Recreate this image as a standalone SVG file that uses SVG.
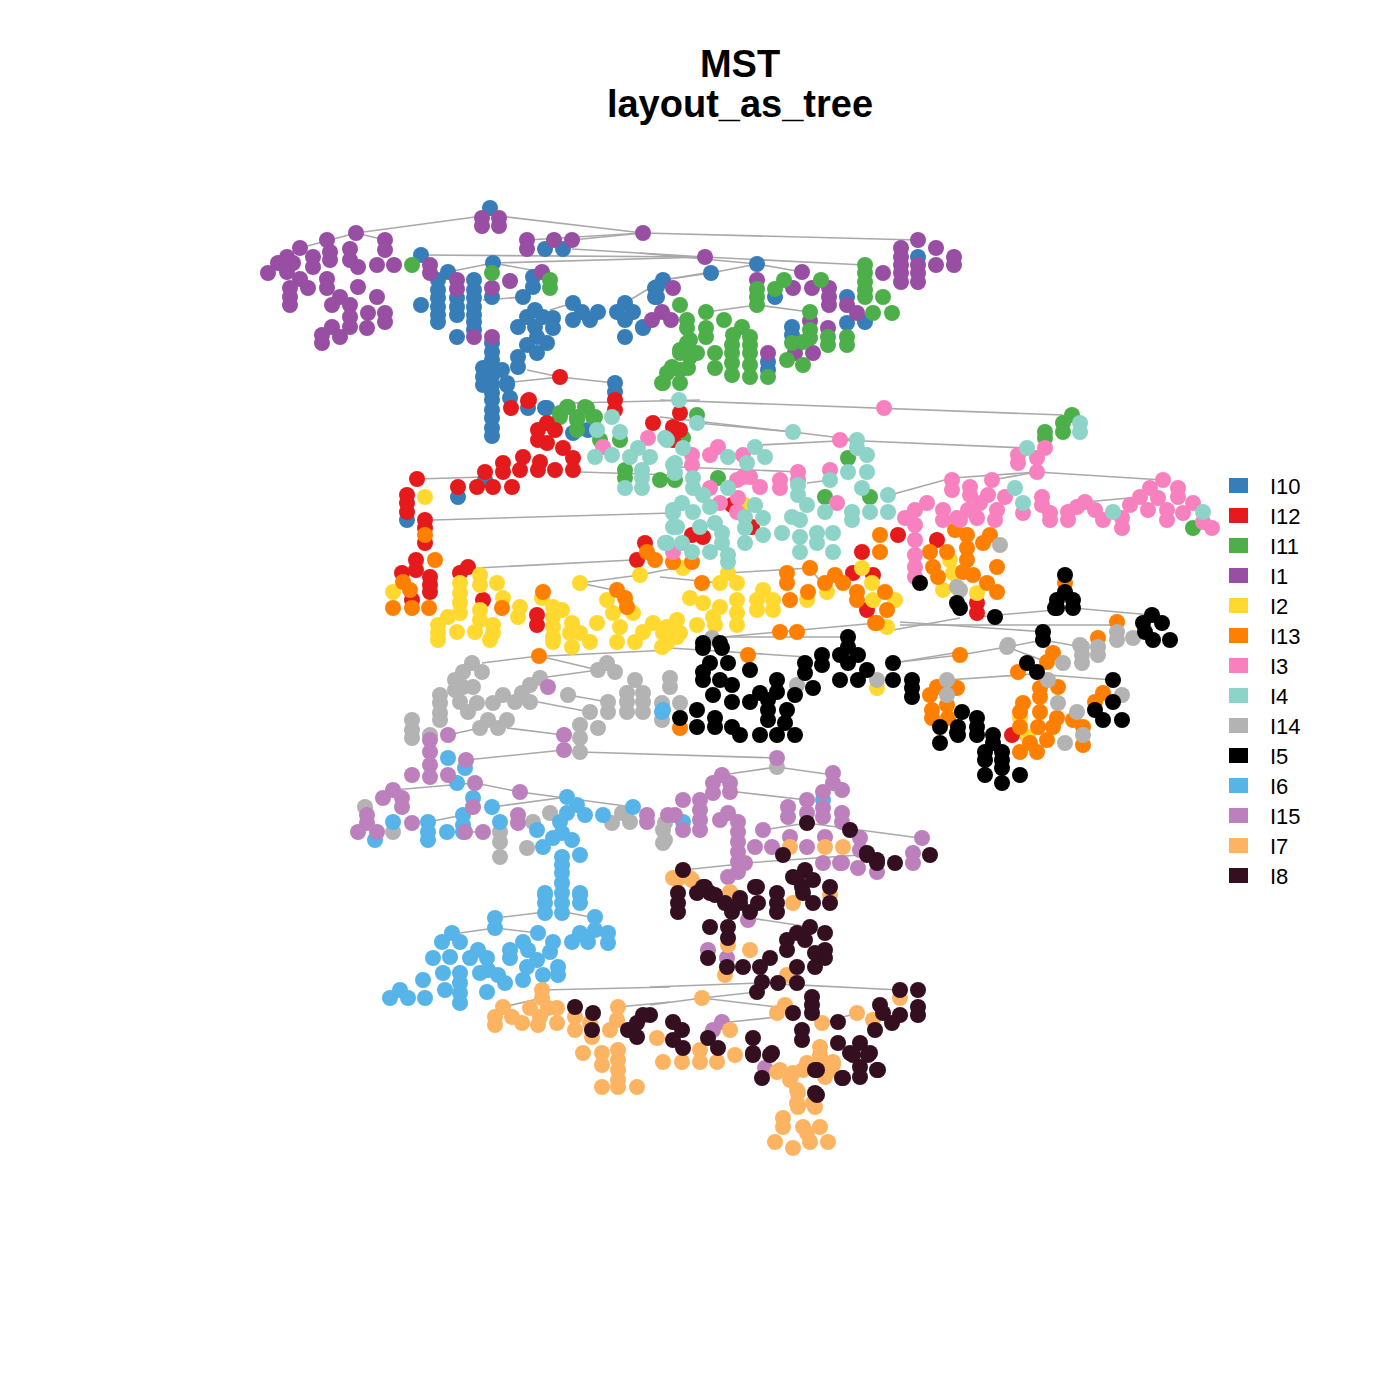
<svg xmlns="http://www.w3.org/2000/svg" width="1400" height="1400" viewBox="0 0 1400 1400">
<style>
.t{font-family:"Liberation Sans",Arial,sans-serif;font-weight:bold;font-size:38px;text-anchor:middle;fill:#000}
.lg{font-family:"Liberation Sans",Arial,sans-serif;font-size:22px;fill:#000}
#edges line{stroke:#A9A9A9;stroke-width:1.6}
circle{r:8}
.c10{fill:#377EB8}.c12{fill:#E41A1C}.c11{fill:#4DAF4A}.c1{fill:#984EA3}.c2{fill:#FFD92F}.c13{fill:#FF7F00}.c3{fill:#F781BF}.c4{fill:#8DD3C7}.c14{fill:#B3B3B3}.c5{fill:#000000}.c6{fill:#56B4E9}.c15{fill:#BC80BD}.c7{fill:#FDB462}.c8{fill:#340F20}
</style>
<rect width="1400" height="1400" fill="#fff"/>
<text class="t" x="740" y="77">MST</text>
<text class="t" x="740" y="117">layout_as_tree</text>
<g id="edges">
<line x1="356" y1="233" x2="490" y2="215"/><line x1="490" y1="215" x2="643" y2="233"/><line x1="643" y1="233" x2="918" y2="240"/>
<line x1="300" y1="248" x2="356" y2="233"/><line x1="356" y1="233" x2="385" y2="240"/><line x1="527" y1="240" x2="643" y2="233"/><line x1="572" y1="240" x2="643" y2="233"/>
<line x1="421" y1="255" x2="705" y2="257"/><line x1="572" y1="249" x2="705" y2="257"/><line x1="493" y1="263" x2="705" y2="257"/><line x1="705" y1="257" x2="865" y2="265"/>
<line x1="640" y1="253" x2="757" y2="264"/><line x1="711" y1="273" x2="757" y2="264"/><line x1="663" y1="280" x2="711" y2="273"/><line x1="757" y1="264" x2="802" y2="272"/>
<line x1="757" y1="305" x2="706" y2="312"/><line x1="757" y1="305" x2="810" y2="312"/><line x1="448" y1="272" x2="493" y2="263"/><line x1="493" y1="263" x2="542" y2="272"/>
<line x1="483" y1="300" x2="523" y2="297"/><line x1="550" y1="310" x2="573" y2="303"/><line x1="625" y1="303" x2="663" y2="280"/><line x1="663" y1="280" x2="705" y2="273"/>
<line x1="513" y1="382" x2="560" y2="377"/><line x1="527" y1="370" x2="560" y2="377"/><line x1="560" y1="377" x2="615" y2="383"/>
<line x1="660" y1="400" x2="1063" y2="415"/><line x1="570" y1="403" x2="700" y2="400"/><line x1="660" y1="417" x2="793" y2="432"/><line x1="697" y1="423" x2="793" y2="432"/>
<line x1="793" y1="432" x2="857" y2="440"/><line x1="840" y1="440" x2="1027" y2="448"/><line x1="760" y1="445" x2="857" y2="440"/><line x1="680" y1="467" x2="800" y2="472"/>
<line x1="807" y1="483" x2="830" y2="480"/><line x1="890" y1="495" x2="952" y2="478"/><line x1="952" y1="478" x2="1037" y2="472"/><line x1="992" y1="480" x2="1037" y2="472"/>
<line x1="1037" y1="472" x2="1163" y2="480"/><line x1="1085" y1="502" x2="1140" y2="497"/><line x1="417" y1="479" x2="485" y2="477"/><line x1="580" y1="472" x2="673" y2="475"/>
<line x1="433" y1="520" x2="673" y2="513"/><line x1="477" y1="568" x2="633" y2="560"/><line x1="580" y1="583" x2="640" y2="575"/><line x1="640" y1="575" x2="680" y2="567"/>
<line x1="580" y1="583" x2="613" y2="590"/><line x1="660" y1="577" x2="720" y2="583"/><line x1="728" y1="573" x2="810" y2="568"/><line x1="810" y1="568" x2="827" y2="590"/>
<line x1="893" y1="630" x2="960" y2="618"/><line x1="710" y1="637" x2="848" y2="637"/><line x1="712" y1="638" x2="877" y2="623"/><line x1="670" y1="648" x2="807" y2="657"/>
<line x1="893" y1="663" x2="960" y2="652"/><line x1="900" y1="622" x2="1047" y2="632"/><line x1="977" y1="617" x2="1055" y2="610"/><line x1="1073" y1="608" x2="1152" y2="615"/>
<line x1="900" y1="625" x2="1117" y2="625"/><line x1="900" y1="662" x2="960" y2="655"/><line x1="960" y1="655" x2="1007" y2="647"/><line x1="1007" y1="647" x2="1043" y2="640"/>
<line x1="1043" y1="640" x2="1082" y2="647"/><line x1="1007" y1="647" x2="1047" y2="662"/><line x1="947" y1="680" x2="1048" y2="673"/><line x1="1048" y1="675" x2="1113" y2="680"/>
<line x1="482" y1="663" x2="539" y2="656"/><line x1="539" y1="656" x2="598" y2="670"/><line x1="547" y1="656" x2="670" y2="650"/><line x1="540" y1="678" x2="598" y2="670"/>
<line x1="538" y1="702" x2="590" y2="712"/><line x1="568" y1="695" x2="608" y2="702"/><line x1="507" y1="728" x2="564" y2="735"/><line x1="448" y1="735" x2="480" y2="728"/>
<line x1="466" y1="760" x2="564" y2="750"/><line x1="580" y1="752" x2="777" y2="758"/><line x1="393" y1="790" x2="475" y2="783"/><line x1="475" y1="783" x2="520" y2="792"/>
<line x1="520" y1="792" x2="633" y2="807"/><line x1="492" y1="807" x2="567" y2="797"/><line x1="447" y1="832" x2="483" y2="832"/><line x1="428" y1="822" x2="463" y2="815"/>
<line x1="777" y1="767" x2="833" y2="775"/><line x1="722" y1="775" x2="777" y2="767"/><line x1="737" y1="792" x2="807" y2="800"/><line x1="807" y1="823" x2="920" y2="838"/>
<line x1="763" y1="830" x2="807" y2="823"/><line x1="745" y1="863" x2="860" y2="855"/><line x1="683" y1="870" x2="740" y2="864"/><line x1="750" y1="918" x2="810" y2="927"/>
<line x1="495" y1="918" x2="545" y2="912"/><line x1="495" y1="928" x2="538" y2="933"/><line x1="460" y1="933" x2="495" y2="928"/><line x1="570" y1="913" x2="595" y2="918"/>
<line x1="542" y1="990" x2="670" y2="987"/><line x1="618" y1="1007" x2="670" y2="1002"/><line x1="650" y1="987" x2="760" y2="983"/><line x1="760" y1="983" x2="900" y2="990"/>
<line x1="702" y1="998" x2="757" y2="992"/><line x1="650" y1="1005" x2="702" y2="998"/><line x1="702" y1="998" x2="777" y2="1007"/><line x1="730" y1="1022" x2="777" y2="1017"/>
<line x1="503" y1="1007" x2="542" y2="998"/><line x1="823" y1="1023" x2="857" y2="1013"/><line x1="787" y1="940" x2="810" y2="927"/>
</g>
<g id="n-I10" class="c10"><circle cx="490" cy="208" r="8"/><circle cx="545" cy="249" r="8"/><circle cx="563" cy="249" r="8"/><circle cx="421" cy="255" r="8"/><circle cx="438" cy="280" r="8"/><circle cx="438" cy="290" r="8"/><circle cx="438" cy="298" r="8"/><circle cx="438" cy="307" r="8"/><circle cx="438" cy="315" r="8"/><circle cx="438" cy="322" r="8"/><circle cx="448" cy="272" r="8"/><circle cx="421" cy="305" r="8"/><circle cx="457" cy="298" r="8"/><circle cx="457" cy="307" r="8"/><circle cx="457" cy="315" r="8"/><circle cx="457" cy="337" r="8"/><circle cx="474" cy="280" r="8"/><circle cx="474" cy="290" r="8"/><circle cx="474" cy="298" r="8"/><circle cx="474" cy="307" r="8"/><circle cx="474" cy="315" r="8"/><circle cx="474" cy="322" r="8"/><circle cx="474" cy="330" r="8"/><circle cx="493" cy="263" r="8"/><circle cx="492" cy="297" r="8"/><circle cx="492" cy="343" r="8"/><circle cx="492" cy="352" r="8"/><circle cx="492" cy="360" r="8"/><circle cx="492" cy="368" r="8"/><circle cx="492" cy="376" r="8"/><circle cx="492" cy="385" r="8"/><circle cx="492" cy="393" r="8"/><circle cx="492" cy="400" r="8"/><circle cx="492" cy="410" r="8"/><circle cx="492" cy="418" r="8"/><circle cx="492" cy="428" r="8"/><circle cx="492" cy="436" r="8"/><circle cx="483" cy="368" r="8"/><circle cx="483" cy="377" r="8"/><circle cx="502" cy="370" r="8"/><circle cx="507" cy="383" r="8"/><circle cx="518" cy="357" r="8"/><circle cx="518" cy="367" r="8"/><circle cx="527" cy="345" r="8"/><circle cx="518" cy="327" r="8"/><circle cx="527" cy="317" r="8"/><circle cx="535" cy="310" r="8"/><circle cx="535" cy="327" r="8"/><circle cx="543" cy="317" r="8"/><circle cx="553" cy="318" r="8"/><circle cx="553" cy="328" r="8"/><circle cx="537" cy="337" r="8"/><circle cx="547" cy="343" r="8"/><circle cx="537" cy="353" r="8"/><circle cx="523" cy="297" r="8"/><circle cx="533" cy="287" r="8"/><circle cx="533" cy="277" r="8"/><circle cx="573" cy="303" r="8"/><circle cx="573" cy="320" r="8"/><circle cx="582" cy="312" r="8"/><circle cx="590" cy="320" r="8"/><circle cx="598" cy="312" r="8"/><circle cx="617" cy="312" r="8"/><circle cx="625" cy="303" r="8"/><circle cx="625" cy="320" r="8"/><circle cx="625" cy="337" r="8"/><circle cx="633" cy="312" r="8"/><circle cx="643" cy="328" r="8"/><circle cx="655" cy="288" r="8"/><circle cx="663" cy="280" r="8"/><circle cx="655" cy="297" r="8"/><circle cx="615" cy="383" r="8"/><circle cx="615" cy="392" r="8"/><circle cx="510" cy="398" r="8"/><circle cx="528" cy="408" r="8"/><circle cx="545" cy="408" r="8"/><circle cx="711" cy="273" r="8"/><circle cx="757" cy="264" r="8"/><circle cx="775" cy="297" r="8"/><circle cx="847" cy="297" r="8"/><circle cx="847" cy="323" r="8"/><circle cx="865" cy="322" r="8"/><circle cx="918" cy="257" r="8"/><circle cx="657" cy="287" r="8"/><circle cx="657" cy="297" r="8"/><circle cx="643" cy="327" r="8"/><circle cx="768" cy="362" r="8"/><circle cx="768" cy="370" r="8"/><circle cx="792" cy="327" r="8"/><circle cx="792" cy="335" r="8"/><circle cx="483" cy="385" r="8"/><circle cx="507" cy="385" r="8"/><circle cx="547" cy="408" r="8"/><circle cx="573" cy="433" r="8"/><circle cx="588" cy="430" r="8"/><circle cx="458" cy="497" r="8"/><circle cx="407" cy="520" r="8"/><circle cx="485" cy="480" r="8"/></g>
<g id="n-I1" class="c1"><circle cx="482" cy="218" r="8"/><circle cx="499" cy="218" r="8"/><circle cx="482" cy="226" r="8"/><circle cx="499" cy="226" r="8"/><circle cx="356" cy="233" r="8"/><circle cx="643" cy="233" r="8"/><circle cx="327" cy="240" r="8"/><circle cx="300" cy="248" r="8"/><circle cx="385" cy="240" r="8"/><circle cx="385" cy="250" r="8"/><circle cx="527" cy="240" r="8"/><circle cx="527" cy="249" r="8"/><circle cx="554" cy="240" r="8"/><circle cx="572" cy="240" r="8"/><circle cx="287" cy="257" r="8"/><circle cx="278" cy="263" r="8"/><circle cx="268" cy="273" r="8"/><circle cx="287" cy="272" r="8"/><circle cx="293" cy="263" r="8"/><circle cx="313" cy="257" r="8"/><circle cx="313" cy="267" r="8"/><circle cx="330" cy="252" r="8"/><circle cx="330" cy="260" r="8"/><circle cx="350" cy="249" r="8"/><circle cx="350" cy="260" r="8"/><circle cx="358" cy="267" r="8"/><circle cx="358" cy="287" r="8"/><circle cx="377" cy="265" r="8"/><circle cx="394" cy="265" r="8"/><circle cx="300" cy="279" r="8"/><circle cx="290" cy="288" r="8"/><circle cx="290" cy="297" r="8"/><circle cx="290" cy="305" r="8"/><circle cx="308" cy="288" r="8"/><circle cx="327" cy="279" r="8"/><circle cx="327" cy="288" r="8"/><circle cx="340" cy="297" r="8"/><circle cx="332" cy="305" r="8"/><circle cx="350" cy="305" r="8"/><circle cx="377" cy="297" r="8"/><circle cx="385" cy="313" r="8"/><circle cx="385" cy="322" r="8"/><circle cx="368" cy="313" r="8"/><circle cx="350" cy="317" r="8"/><circle cx="367" cy="328" r="8"/><circle cx="350" cy="327" r="8"/><circle cx="332" cy="327" r="8"/><circle cx="322" cy="335" r="8"/><circle cx="322" cy="343" r="8"/><circle cx="340" cy="337" r="8"/><circle cx="430" cy="265" r="8"/><circle cx="430" cy="273" r="8"/><circle cx="457" cy="280" r="8"/><circle cx="457" cy="289" r="8"/><circle cx="474" cy="337" r="8"/><circle cx="492" cy="337" r="8"/><circle cx="492" cy="288" r="8"/><circle cx="510" cy="281" r="8"/><circle cx="542" cy="272" r="8"/><circle cx="673" cy="288" r="8"/><circle cx="652" cy="320" r="8"/><circle cx="662" cy="312" r="8"/><circle cx="671" cy="320" r="8"/><circle cx="705" cy="257" r="8"/><circle cx="757" cy="280" r="8"/><circle cx="802" cy="272" r="8"/><circle cx="793" cy="288" r="8"/><circle cx="812" cy="288" r="8"/><circle cx="829" cy="288" r="8"/><circle cx="829" cy="297" r="8"/><circle cx="829" cy="305" r="8"/><circle cx="847" cy="305" r="8"/><circle cx="857" cy="313" r="8"/><circle cx="883" cy="273" r="8"/><circle cx="901" cy="248" r="8"/><circle cx="901" cy="257" r="8"/><circle cx="901" cy="265" r="8"/><circle cx="901" cy="273" r="8"/><circle cx="901" cy="282" r="8"/><circle cx="918" cy="240" r="8"/><circle cx="936" cy="248" r="8"/><circle cx="936" cy="265" r="8"/><circle cx="954" cy="257" r="8"/><circle cx="954" cy="265" r="8"/><circle cx="918" cy="265" r="8"/><circle cx="918" cy="273" r="8"/><circle cx="918" cy="282" r="8"/><circle cx="768" cy="353" r="8"/><circle cx="795" cy="353" r="8"/><circle cx="813" cy="353" r="8"/><circle cx="810" cy="321" r="8"/><circle cx="828" cy="328" r="8"/></g>
<g id="n-I11" class="c11"><circle cx="412" cy="265" r="8"/><circle cx="492" cy="273" r="8"/><circle cx="550" cy="280" r="8"/><circle cx="550" cy="288" r="8"/><circle cx="680" cy="305" r="8"/><circle cx="687" cy="320" r="8"/><circle cx="687" cy="328" r="8"/><circle cx="567" cy="407" r="8"/><circle cx="585" cy="407" r="8"/><circle cx="560" cy="417" r="8"/><circle cx="577" cy="420" r="8"/><circle cx="593" cy="417" r="8"/><circle cx="663" cy="383" r="8"/><circle cx="672" cy="367" r="8"/><circle cx="680" cy="350" r="8"/><circle cx="690" cy="340" r="8"/><circle cx="690" cy="357" r="8"/><circle cx="667" cy="373" r="8"/><circle cx="757" cy="289" r="8"/><circle cx="757" cy="297" r="8"/><circle cx="757" cy="305" r="8"/><circle cx="775" cy="289" r="8"/><circle cx="784" cy="280" r="8"/><circle cx="821" cy="280" r="8"/><circle cx="847" cy="337" r="8"/><circle cx="847" cy="345" r="8"/><circle cx="865" cy="265" r="8"/><circle cx="865" cy="273" r="8"/><circle cx="865" cy="282" r="8"/><circle cx="865" cy="290" r="8"/><circle cx="865" cy="297" r="8"/><circle cx="873" cy="313" r="8"/><circle cx="883" cy="297" r="8"/><circle cx="892" cy="313" r="8"/><circle cx="706" cy="312" r="8"/><circle cx="706" cy="328" r="8"/><circle cx="706" cy="337" r="8"/><circle cx="724" cy="320" r="8"/><circle cx="742" cy="327" r="8"/><circle cx="733" cy="335" r="8"/><circle cx="750" cy="337" r="8"/><circle cx="750" cy="345" r="8"/><circle cx="750" cy="353" r="8"/><circle cx="732" cy="345" r="8"/><circle cx="732" cy="353" r="8"/><circle cx="732" cy="363" r="8"/><circle cx="732" cy="375" r="8"/><circle cx="750" cy="365" r="8"/><circle cx="750" cy="377" r="8"/><circle cx="715" cy="353" r="8"/><circle cx="715" cy="368" r="8"/><circle cx="697" cy="353" r="8"/><circle cx="687" cy="343" r="8"/><circle cx="680" cy="353" r="8"/><circle cx="680" cy="370" r="8"/><circle cx="688" cy="368" r="8"/><circle cx="662" cy="383" r="8"/><circle cx="680" cy="383" r="8"/><circle cx="768" cy="377" r="8"/><circle cx="787" cy="360" r="8"/><circle cx="803" cy="365" r="8"/><circle cx="803" cy="342" r="8"/><circle cx="810" cy="312" r="8"/><circle cx="810" cy="330" r="8"/><circle cx="810" cy="338" r="8"/><circle cx="828" cy="337" r="8"/><circle cx="828" cy="345" r="8"/><circle cx="792" cy="343" r="8"/><circle cx="560" cy="413" r="8"/><circle cx="568" cy="407" r="8"/><circle cx="577" cy="417" r="8"/><circle cx="577" cy="430" r="8"/><circle cx="587" cy="408" r="8"/><circle cx="595" cy="417" r="8"/><circle cx="600" cy="440" r="8"/><circle cx="620" cy="440" r="8"/><circle cx="625" cy="470" r="8"/><circle cx="625" cy="478" r="8"/><circle cx="660" cy="480" r="8"/><circle cx="697" cy="415" r="8"/><circle cx="683" cy="438" r="8"/><circle cx="848" cy="458" r="8"/><circle cx="870" cy="497" r="8"/><circle cx="825" cy="497" r="8"/><circle cx="718" cy="478" r="8"/><circle cx="675" cy="480" r="8"/><circle cx="1072" cy="415" r="8"/><circle cx="1063" cy="423" r="8"/><circle cx="1063" cy="432" r="8"/><circle cx="1045" cy="432" r="8"/><circle cx="1045" cy="438" r="8"/><circle cx="1193" cy="528" r="8"/></g>
<g id="n-I12" class="c12"><circle cx="560" cy="377" r="8"/><circle cx="615" cy="400" r="8"/><circle cx="615" cy="410" r="8"/><circle cx="528" cy="401" r="8"/><circle cx="511" cy="408" r="8"/><circle cx="529" cy="400" r="8"/><circle cx="653" cy="423" r="8"/><circle cx="680" cy="413" r="8"/><circle cx="680" cy="430" r="8"/><circle cx="673" cy="427" r="8"/><circle cx="673" cy="440" r="8"/><circle cx="547" cy="423" r="8"/><circle cx="538" cy="430" r="8"/><circle cx="538" cy="440" r="8"/><circle cx="547" cy="443" r="8"/><circle cx="555" cy="430" r="8"/><circle cx="563" cy="448" r="8"/><circle cx="573" cy="458" r="8"/><circle cx="573" cy="470" r="8"/><circle cx="555" cy="470" r="8"/><circle cx="538" cy="470" r="8"/><circle cx="540" cy="462" r="8"/><circle cx="520" cy="470" r="8"/><circle cx="523" cy="457" r="8"/><circle cx="503" cy="463" r="8"/><circle cx="503" cy="472" r="8"/><circle cx="485" cy="472" r="8"/><circle cx="477" cy="487" r="8"/><circle cx="493" cy="487" r="8"/><circle cx="512" cy="487" r="8"/><circle cx="458" cy="487" r="8"/><circle cx="417" cy="479" r="8"/><circle cx="407" cy="495" r="8"/><circle cx="407" cy="503" r="8"/><circle cx="407" cy="512" r="8"/><circle cx="425" cy="520" r="8"/><circle cx="425" cy="528" r="8"/><circle cx="425" cy="543" r="8"/><circle cx="416" cy="560" r="8"/><circle cx="416" cy="570" r="8"/><circle cx="430" cy="577" r="8"/><circle cx="430" cy="585" r="8"/><circle cx="430" cy="592" r="8"/><circle cx="402" cy="573" r="8"/><circle cx="412" cy="600" r="8"/><circle cx="468" cy="567" r="8"/><circle cx="460" cy="573" r="8"/><circle cx="483" cy="600" r="8"/><circle cx="537" cy="615" r="8"/><circle cx="537" cy="625" r="8"/><circle cx="637" cy="560" r="8"/><circle cx="645" cy="543" r="8"/><circle cx="703" cy="537" r="8"/><circle cx="692" cy="535" r="8"/><circle cx="732" cy="505" r="8"/><circle cx="752" cy="527" r="8"/><circle cx="853" cy="573" r="8"/><circle cx="862" cy="552" r="8"/><circle cx="873" cy="575" r="8"/><circle cx="867" cy="610" r="8"/><circle cx="898" cy="535" r="8"/><circle cx="937" cy="540" r="8"/><circle cx="977" cy="603" r="8"/><circle cx="977" cy="613" r="8"/><circle cx="1012" cy="735" r="8"/></g>
<g id="n-I2" class="c2"><circle cx="425" cy="497" r="8"/><circle cx="393" cy="592" r="8"/><circle cx="460" cy="583" r="8"/><circle cx="460" cy="593" r="8"/><circle cx="460" cy="603" r="8"/><circle cx="460" cy="613" r="8"/><circle cx="480" cy="575" r="8"/><circle cx="480" cy="585" r="8"/><circle cx="497" cy="583" r="8"/><circle cx="503" cy="598" r="8"/><circle cx="480" cy="610" r="8"/><circle cx="480" cy="620" r="8"/><circle cx="493" cy="625" r="8"/><circle cx="493" cy="633" r="8"/><circle cx="475" cy="632" r="8"/><circle cx="457" cy="632" r="8"/><circle cx="438" cy="633" r="8"/><circle cx="438" cy="625" r="8"/><circle cx="448" cy="617" r="8"/><circle cx="520" cy="607" r="8"/><circle cx="518" cy="617" r="8"/><circle cx="542" cy="598" r="8"/><circle cx="553" cy="607" r="8"/><circle cx="553" cy="617" r="8"/><circle cx="553" cy="627" r="8"/><circle cx="553" cy="637" r="8"/><circle cx="562" cy="610" r="8"/><circle cx="572" cy="623" r="8"/><circle cx="570" cy="633" r="8"/><circle cx="580" cy="583" r="8"/><circle cx="607" cy="600" r="8"/><circle cx="613" cy="613" r="8"/><circle cx="597" cy="623" r="8"/><circle cx="580" cy="633" r="8"/><circle cx="620" cy="627" r="8"/><circle cx="633" cy="613" r="8"/><circle cx="643" cy="632" r="8"/><circle cx="653" cy="623" r="8"/><circle cx="663" cy="633" r="8"/><circle cx="673" cy="627" r="8"/><circle cx="640" cy="575" r="8"/><circle cx="683" cy="568" r="8"/><circle cx="690" cy="598" r="8"/><circle cx="703" cy="603" r="8"/><circle cx="720" cy="583" r="8"/><circle cx="728" cy="573" r="8"/><circle cx="737" cy="583" r="8"/><circle cx="737" cy="600" r="8"/><circle cx="737" cy="613" r="8"/><circle cx="720" cy="607" r="8"/><circle cx="713" cy="617" r="8"/><circle cx="757" cy="600" r="8"/><circle cx="763" cy="590" r="8"/><circle cx="773" cy="600" r="8"/><circle cx="757" cy="610" r="8"/><circle cx="773" cy="610" r="8"/><circle cx="677" cy="620" r="8"/><circle cx="667" cy="627" r="8"/><circle cx="677" cy="637" r="8"/><circle cx="827" cy="592" r="8"/><circle cx="807" cy="600" r="8"/><circle cx="862" cy="568" r="8"/><circle cx="872" cy="583" r="8"/><circle cx="873" cy="600" r="8"/><circle cx="895" cy="600" r="8"/><circle cx="887" cy="627" r="8"/><circle cx="943" cy="590" r="8"/><circle cx="950" cy="560" r="8"/><circle cx="953" cy="573" r="8"/><circle cx="977" cy="593" r="8"/><circle cx="877" cy="688" r="8"/><circle cx="1020" cy="718" r="8"/><circle cx="1028" cy="737" r="8"/><circle cx="438" cy="640" r="8"/><circle cx="490" cy="640" r="8"/><circle cx="553" cy="642" r="8"/><circle cx="572" cy="647" r="8"/><circle cx="590" cy="642" r="8"/><circle cx="617" cy="642" r="8"/><circle cx="635" cy="642" r="8"/><circle cx="662" cy="647" r="8"/><circle cx="667" cy="643" r="8"/><circle cx="680" cy="633" r="8"/><circle cx="697" cy="625" r="8"/><circle cx="715" cy="625" r="8"/><circle cx="737" cy="625" r="8"/><circle cx="745" cy="505" r="8"/></g>
<g id="n-I13" class="c13"><circle cx="425" cy="535" r="8"/><circle cx="435" cy="560" r="8"/><circle cx="403" cy="582" r="8"/><circle cx="410" cy="590" r="8"/><circle cx="393" cy="608" r="8"/><circle cx="412" cy="608" r="8"/><circle cx="429" cy="608" r="8"/><circle cx="502" cy="608" r="8"/><circle cx="543" cy="592" r="8"/><circle cx="617" cy="590" r="8"/><circle cx="625" cy="598" r="8"/><circle cx="627" cy="607" r="8"/><circle cx="647" cy="552" r="8"/><circle cx="655" cy="560" r="8"/><circle cx="673" cy="562" r="8"/><circle cx="692" cy="562" r="8"/><circle cx="702" cy="583" r="8"/><circle cx="787" cy="573" r="8"/><circle cx="787" cy="583" r="8"/><circle cx="790" cy="600" r="8"/><circle cx="808" cy="592" r="8"/><circle cx="810" cy="568" r="8"/><circle cx="825" cy="583" r="8"/><circle cx="835" cy="575" r="8"/><circle cx="843" cy="583" r="8"/><circle cx="857" cy="592" r="8"/><circle cx="857" cy="600" r="8"/><circle cx="880" cy="535" r="8"/><circle cx="880" cy="552" r="8"/><circle cx="885" cy="592" r="8"/><circle cx="887" cy="610" r="8"/><circle cx="875" cy="623" r="8"/><circle cx="780" cy="632" r="8"/><circle cx="797" cy="632" r="8"/><circle cx="930" cy="552" r="8"/><circle cx="947" cy="552" r="8"/><circle cx="933" cy="567" r="8"/><circle cx="938" cy="577" r="8"/><circle cx="955" cy="530" r="8"/><circle cx="967" cy="535" r="8"/><circle cx="967" cy="548" r="8"/><circle cx="967" cy="560" r="8"/><circle cx="963" cy="572" r="8"/><circle cx="990" cy="535" r="8"/><circle cx="983" cy="543" r="8"/><circle cx="997" cy="567" r="8"/><circle cx="973" cy="575" r="8"/><circle cx="987" cy="583" r="8"/><circle cx="997" cy="592" r="8"/><circle cx="1065" cy="583" r="8"/><circle cx="1117" cy="622" r="8"/><circle cx="1098" cy="638" r="8"/><circle cx="960" cy="655" r="8"/><circle cx="1053" cy="653" r="8"/><circle cx="1047" cy="662" r="8"/><circle cx="1018" cy="672" r="8"/><circle cx="1058" cy="687" r="8"/><circle cx="1040" cy="688" r="8"/><circle cx="1040" cy="697" r="8"/><circle cx="1040" cy="712" r="8"/><circle cx="1023" cy="703" r="8"/><circle cx="1020" cy="712" r="8"/><circle cx="1020" cy="727" r="8"/><circle cx="1038" cy="727" r="8"/><circle cx="1057" cy="718" r="8"/><circle cx="1053" cy="727" r="8"/><circle cx="1047" cy="740" r="8"/><circle cx="1037" cy="752" r="8"/><circle cx="1020" cy="752" r="8"/><circle cx="1030" cy="743" r="8"/><circle cx="1083" cy="727" r="8"/><circle cx="1083" cy="745" r="8"/><circle cx="1073" cy="720" r="8"/><circle cx="1103" cy="693" r="8"/><circle cx="1095" cy="702" r="8"/><circle cx="930" cy="695" r="8"/><circle cx="937" cy="687" r="8"/><circle cx="957" cy="688" r="8"/><circle cx="932" cy="710" r="8"/><circle cx="932" cy="718" r="8"/><circle cx="947" cy="705" r="8"/><circle cx="948" cy="718" r="8"/><circle cx="539" cy="656" r="8"/><circle cx="748" cy="655" r="8"/><circle cx="877" cy="623" r="8"/><circle cx="680" cy="728" r="8"/></g>
<g id="n-I3" class="c3"><circle cx="673" cy="552" r="8"/><circle cx="603" cy="447" r="8"/><circle cx="648" cy="438" r="8"/><circle cx="884" cy="408" r="8"/><circle cx="840" cy="440" r="8"/><circle cx="830" cy="470" r="8"/><circle cx="837" cy="503" r="8"/><circle cx="798" cy="472" r="8"/><circle cx="798" cy="480" r="8"/><circle cx="780" cy="480" r="8"/><circle cx="780" cy="488" r="8"/><circle cx="710" cy="455" r="8"/><circle cx="718" cy="447" r="8"/><circle cx="743" cy="455" r="8"/><circle cx="737" cy="480" r="8"/><circle cx="743" cy="477" r="8"/><circle cx="750" cy="477" r="8"/><circle cx="760" cy="487" r="8"/><circle cx="710" cy="488" r="8"/><circle cx="720" cy="503" r="8"/><circle cx="738" cy="498" r="8"/><circle cx="737" cy="512" r="8"/><circle cx="692" cy="465" r="8"/><circle cx="692" cy="455" r="8"/><circle cx="915" cy="510" r="8"/><circle cx="915" cy="525" r="8"/><circle cx="915" cy="540" r="8"/><circle cx="915" cy="555" r="8"/><circle cx="915" cy="567" r="8"/><circle cx="915" cy="577" r="8"/><circle cx="905" cy="518" r="8"/><circle cx="927" cy="503" r="8"/><circle cx="943" cy="510" r="8"/><circle cx="952" cy="480" r="8"/><circle cx="952" cy="490" r="8"/><circle cx="957" cy="518" r="8"/><circle cx="1045" cy="448" r="8"/><circle cx="1037" cy="458" r="8"/><circle cx="1037" cy="472" r="8"/><circle cx="1018" cy="455" r="8"/><circle cx="1018" cy="463" r="8"/><circle cx="970" cy="487" r="8"/><circle cx="970" cy="495" r="8"/><circle cx="992" cy="480" r="8"/><circle cx="988" cy="495" r="8"/><circle cx="980" cy="503" r="8"/><circle cx="1005" cy="497" r="8"/><circle cx="997" cy="510" r="8"/><circle cx="995" cy="520" r="8"/><circle cx="977" cy="518" r="8"/><circle cx="960" cy="520" r="8"/><circle cx="968" cy="510" r="8"/><circle cx="943" cy="520" r="8"/><circle cx="1023" cy="513" r="8"/><circle cx="1042" cy="497" r="8"/><circle cx="1042" cy="505" r="8"/><circle cx="1050" cy="513" r="8"/><circle cx="1050" cy="520" r="8"/><circle cx="1068" cy="512" r="8"/><circle cx="1068" cy="520" r="8"/><circle cx="1077" cy="507" r="8"/><circle cx="1085" cy="502" r="8"/><circle cx="1095" cy="510" r="8"/><circle cx="1103" cy="520" r="8"/><circle cx="1122" cy="528" r="8"/><circle cx="1122" cy="518" r="8"/><circle cx="1130" cy="505" r="8"/><circle cx="1140" cy="497" r="8"/><circle cx="1148" cy="510" r="8"/><circle cx="1150" cy="488" r="8"/><circle cx="1163" cy="480" r="8"/><circle cx="1158" cy="498" r="8"/><circle cx="1167" cy="510" r="8"/><circle cx="1167" cy="520" r="8"/><circle cx="1178" cy="488" r="8"/><circle cx="1178" cy="497" r="8"/><circle cx="1183" cy="513" r="8"/><circle cx="1193" cy="503" r="8"/><circle cx="1203" cy="522" r="8"/><circle cx="1212" cy="528" r="8"/></g>
<g id="n-I4" class="c4"><circle cx="612" cy="417" r="8"/><circle cx="620" cy="432" r="8"/><circle cx="679" cy="400" r="8"/><circle cx="597" cy="430" r="8"/><circle cx="595" cy="457" r="8"/><circle cx="612" cy="455" r="8"/><circle cx="630" cy="457" r="8"/><circle cx="638" cy="448" r="8"/><circle cx="650" cy="457" r="8"/><circle cx="665" cy="438" r="8"/><circle cx="673" cy="465" r="8"/><circle cx="625" cy="488" r="8"/><circle cx="642" cy="470" r="8"/><circle cx="642" cy="478" r="8"/><circle cx="642" cy="488" r="8"/><circle cx="673" cy="510" r="8"/><circle cx="673" cy="527" r="8"/><circle cx="665" cy="543" r="8"/><circle cx="697" cy="423" r="8"/><circle cx="667" cy="440" r="8"/><circle cx="683" cy="448" r="8"/><circle cx="793" cy="432" r="8"/><circle cx="857" cy="440" r="8"/><circle cx="857" cy="448" r="8"/><circle cx="867" cy="455" r="8"/><circle cx="848" cy="472" r="8"/><circle cx="867" cy="472" r="8"/><circle cx="830" cy="480" r="8"/><circle cx="862" cy="488" r="8"/><circle cx="888" cy="495" r="8"/><circle cx="888" cy="512" r="8"/><circle cx="870" cy="512" r="8"/><circle cx="852" cy="512" r="8"/><circle cx="852" cy="520" r="8"/><circle cx="833" cy="533" r="8"/><circle cx="833" cy="552" r="8"/><circle cx="817" cy="533" r="8"/><circle cx="817" cy="543" r="8"/><circle cx="800" cy="520" r="8"/><circle cx="800" cy="537" r="8"/><circle cx="800" cy="552" r="8"/><circle cx="782" cy="533" r="8"/><circle cx="792" cy="517" r="8"/><circle cx="807" cy="505" r="8"/><circle cx="825" cy="512" r="8"/><circle cx="798" cy="495" r="8"/><circle cx="798" cy="485" r="8"/><circle cx="728" cy="457" r="8"/><circle cx="755" cy="447" r="8"/><circle cx="765" cy="457" r="8"/><circle cx="747" cy="463" r="8"/><circle cx="728" cy="488" r="8"/><circle cx="755" cy="505" r="8"/><circle cx="745" cy="517" r="8"/><circle cx="745" cy="528" r="8"/><circle cx="745" cy="543" r="8"/><circle cx="763" cy="518" r="8"/><circle cx="763" cy="535" r="8"/><circle cx="675" cy="463" r="8"/><circle cx="675" cy="473" r="8"/><circle cx="693" cy="478" r="8"/><circle cx="693" cy="488" r="8"/><circle cx="703" cy="495" r="8"/><circle cx="682" cy="503" r="8"/><circle cx="673" cy="513" r="8"/><circle cx="693" cy="512" r="8"/><circle cx="710" cy="507" r="8"/><circle cx="700" cy="527" r="8"/><circle cx="715" cy="523" r="8"/><circle cx="722" cy="533" r="8"/><circle cx="722" cy="543" r="8"/><circle cx="710" cy="552" r="8"/><circle cx="728" cy="555" r="8"/><circle cx="728" cy="562" r="8"/><circle cx="692" cy="552" r="8"/><circle cx="682" cy="543" r="8"/><circle cx="667" cy="543" r="8"/><circle cx="677" cy="527" r="8"/><circle cx="1080" cy="423" r="8"/><circle cx="1080" cy="432" r="8"/><circle cx="1027" cy="448" r="8"/><circle cx="1015" cy="488" r="8"/><circle cx="1023" cy="503" r="8"/><circle cx="1113" cy="512" r="8"/><circle cx="1203" cy="512" r="8"/></g>
<g id="n-I14" class="c14"><circle cx="1000" cy="545" r="8"/><circle cx="960" cy="590" r="8"/><circle cx="1117" cy="632" r="8"/><circle cx="1133" cy="638" r="8"/><circle cx="1117" cy="640" r="8"/><circle cx="1008" cy="645" r="8"/><circle cx="1080" cy="645" r="8"/><circle cx="1098" cy="647" r="8"/><circle cx="1098" cy="655" r="8"/><circle cx="1082" cy="647" r="8"/><circle cx="1082" cy="655" r="8"/><circle cx="1082" cy="663" r="8"/><circle cx="1063" cy="663" r="8"/><circle cx="1007" cy="647" r="8"/><circle cx="1048" cy="680" r="8"/><circle cx="1058" cy="703" r="8"/><circle cx="1077" cy="712" r="8"/><circle cx="1065" cy="743" r="8"/><circle cx="1083" cy="735" r="8"/><circle cx="1122" cy="695" r="8"/><circle cx="947" cy="680" r="8"/><circle cx="947" cy="695" r="8"/><circle cx="957" cy="587" r="8"/><circle cx="712" cy="638" r="8"/><circle cx="877" cy="680" r="8"/><circle cx="797" cy="685" r="8"/><circle cx="670" cy="678" r="8"/><circle cx="670" cy="687" r="8"/><circle cx="680" cy="703" r="8"/><circle cx="777" cy="767" r="8"/><circle cx="665" cy="823" r="8"/><circle cx="665" cy="840" r="8"/><circle cx="472" cy="663" r="8"/><circle cx="463" cy="672" r="8"/><circle cx="482" cy="672" r="8"/><circle cx="455" cy="680" r="8"/><circle cx="463" cy="687" r="8"/><circle cx="473" cy="687" r="8"/><circle cx="455" cy="690" r="8"/><circle cx="440" cy="695" r="8"/><circle cx="440" cy="703" r="8"/><circle cx="440" cy="713" r="8"/><circle cx="440" cy="720" r="8"/><circle cx="460" cy="702" r="8"/><circle cx="477" cy="703" r="8"/><circle cx="468" cy="712" r="8"/><circle cx="412" cy="720" r="8"/><circle cx="412" cy="730" r="8"/><circle cx="412" cy="738" r="8"/><circle cx="430" cy="735" r="8"/><circle cx="493" cy="703" r="8"/><circle cx="503" cy="695" r="8"/><circle cx="515" cy="702" r="8"/><circle cx="522" cy="693" r="8"/><circle cx="530" cy="702" r="8"/><circle cx="530" cy="685" r="8"/><circle cx="540" cy="678" r="8"/><circle cx="568" cy="695" r="8"/><circle cx="488" cy="720" r="8"/><circle cx="480" cy="728" r="8"/><circle cx="498" cy="728" r="8"/><circle cx="507" cy="720" r="8"/><circle cx="598" cy="670" r="8"/><circle cx="607" cy="663" r="8"/><circle cx="615" cy="672" r="8"/><circle cx="635" cy="680" r="8"/><circle cx="627" cy="693" r="8"/><circle cx="627" cy="702" r="8"/><circle cx="627" cy="712" r="8"/><circle cx="643" cy="693" r="8"/><circle cx="643" cy="702" r="8"/><circle cx="643" cy="712" r="8"/><circle cx="608" cy="702" r="8"/><circle cx="608" cy="712" r="8"/><circle cx="590" cy="712" r="8"/><circle cx="598" cy="728" r="8"/><circle cx="580" cy="725" r="8"/><circle cx="580" cy="738" r="8"/><circle cx="580" cy="752" r="8"/><circle cx="662" cy="703" r="8"/><circle cx="662" cy="720" r="8"/><circle cx="365" cy="807" r="8"/><circle cx="393" cy="832" r="8"/><circle cx="500" cy="832" r="8"/><circle cx="500" cy="842" r="8"/><circle cx="500" cy="857" r="8"/><circle cx="527" cy="848" r="8"/><circle cx="533" cy="822" r="8"/><circle cx="550" cy="813" r="8"/><circle cx="612" cy="823" r="8"/><circle cx="622" cy="813" r="8"/><circle cx="630" cy="822" r="8"/><circle cx="663" cy="830" r="8"/><circle cx="663" cy="843" r="8"/></g>
<g id="n-I5" class="c5"><circle cx="920" cy="583" r="8"/><circle cx="957" cy="603" r="8"/><circle cx="848" cy="637" r="8"/><circle cx="703" cy="643" r="8"/><circle cx="720" cy="643" r="8"/><circle cx="960" cy="608" r="8"/><circle cx="995" cy="617" r="8"/><circle cx="1055" cy="608" r="8"/><circle cx="1073" cy="608" r="8"/><circle cx="1152" cy="615" r="8"/><circle cx="1143" cy="623" r="8"/><circle cx="1162" cy="623" r="8"/><circle cx="1145" cy="632" r="8"/><circle cx="1153" cy="640" r="8"/><circle cx="1170" cy="640" r="8"/><circle cx="1043" cy="632" r="8"/><circle cx="1043" cy="640" r="8"/><circle cx="1027" cy="663" r="8"/><circle cx="1037" cy="672" r="8"/><circle cx="1113" cy="680" r="8"/><circle cx="1113" cy="702" r="8"/><circle cx="1095" cy="710" r="8"/><circle cx="1103" cy="720" r="8"/><circle cx="1122" cy="720" r="8"/><circle cx="912" cy="680" r="8"/><circle cx="912" cy="688" r="8"/><circle cx="912" cy="697" r="8"/><circle cx="962" cy="712" r="8"/><circle cx="977" cy="718" r="8"/><circle cx="977" cy="727" r="8"/><circle cx="977" cy="735" r="8"/><circle cx="958" cy="727" r="8"/><circle cx="958" cy="735" r="8"/><circle cx="940" cy="727" r="8"/><circle cx="940" cy="743" r="8"/><circle cx="993" cy="735" r="8"/><circle cx="993" cy="743" r="8"/><circle cx="985" cy="752" r="8"/><circle cx="985" cy="760" r="8"/><circle cx="985" cy="775" r="8"/><circle cx="1002" cy="752" r="8"/><circle cx="1002" cy="760" r="8"/><circle cx="1002" cy="768" r="8"/><circle cx="1002" cy="783" r="8"/><circle cx="1020" cy="775" r="8"/><circle cx="1065" cy="575" r="8"/><circle cx="1065" cy="592" r="8"/><circle cx="1057" cy="600" r="8"/><circle cx="1073" cy="600" r="8"/><circle cx="1057" cy="608" r="8"/><circle cx="848" cy="647" r="8"/><circle cx="703" cy="648" r="8"/><circle cx="722" cy="648" r="8"/><circle cx="822" cy="655" r="8"/><circle cx="822" cy="665" r="8"/><circle cx="805" cy="663" r="8"/><circle cx="805" cy="673" r="8"/><circle cx="840" cy="655" r="8"/><circle cx="858" cy="655" r="8"/><circle cx="848" cy="663" r="8"/><circle cx="867" cy="670" r="8"/><circle cx="840" cy="680" r="8"/><circle cx="858" cy="680" r="8"/><circle cx="893" cy="663" r="8"/><circle cx="893" cy="680" r="8"/><circle cx="710" cy="663" r="8"/><circle cx="728" cy="663" r="8"/><circle cx="703" cy="672" r="8"/><circle cx="703" cy="680" r="8"/><circle cx="720" cy="680" r="8"/><circle cx="713" cy="695" r="8"/><circle cx="732" cy="685" r="8"/><circle cx="750" cy="670" r="8"/><circle cx="732" cy="702" r="8"/><circle cx="750" cy="702" r="8"/><circle cx="760" cy="693" r="8"/><circle cx="768" cy="700" r="8"/><circle cx="777" cy="680" r="8"/><circle cx="777" cy="692" r="8"/><circle cx="795" cy="695" r="8"/><circle cx="813" cy="688" r="8"/><circle cx="787" cy="710" r="8"/><circle cx="768" cy="710" r="8"/><circle cx="768" cy="720" r="8"/><circle cx="697" cy="710" r="8"/><circle cx="680" cy="718" r="8"/><circle cx="697" cy="727" r="8"/><circle cx="715" cy="718" r="8"/><circle cx="715" cy="727" r="8"/><circle cx="732" cy="727" r="8"/><circle cx="740" cy="735" r="8"/><circle cx="760" cy="735" r="8"/><circle cx="777" cy="735" r="8"/><circle cx="795" cy="735" r="8"/><circle cx="785" cy="723" r="8"/><circle cx="957" cy="733" r="8"/></g>
<g id="n-I6" class="c6"><circle cx="663" cy="710" r="8"/><circle cx="823" cy="800" r="8"/><circle cx="683" cy="822" r="8"/><circle cx="562" cy="883" r="8"/><circle cx="562" cy="893" r="8"/><circle cx="562" cy="903" r="8"/><circle cx="562" cy="913" r="8"/><circle cx="545" cy="895" r="8"/><circle cx="545" cy="903" r="8"/><circle cx="545" cy="913" r="8"/><circle cx="580" cy="895" r="8"/><circle cx="580" cy="903" r="8"/><circle cx="595" cy="917" r="8"/><circle cx="595" cy="930" r="8"/><circle cx="608" cy="933" r="8"/><circle cx="608" cy="943" r="8"/><circle cx="588" cy="942" r="8"/><circle cx="572" cy="942" r="8"/><circle cx="580" cy="933" r="8"/><circle cx="495" cy="918" r="8"/><circle cx="495" cy="928" r="8"/><circle cx="538" cy="933" r="8"/><circle cx="523" cy="942" r="8"/><circle cx="553" cy="942" r="8"/><circle cx="510" cy="950" r="8"/><circle cx="510" cy="958" r="8"/><circle cx="528" cy="950" r="8"/><circle cx="537" cy="960" r="8"/><circle cx="550" cy="952" r="8"/><circle cx="527" cy="967" r="8"/><circle cx="543" cy="975" r="8"/><circle cx="558" cy="967" r="8"/><circle cx="558" cy="975" r="8"/><circle cx="523" cy="980" r="8"/><circle cx="452" cy="933" r="8"/><circle cx="460" cy="942" r="8"/><circle cx="442" cy="942" r="8"/><circle cx="433" cy="958" r="8"/><circle cx="450" cy="957" r="8"/><circle cx="478" cy="950" r="8"/><circle cx="470" cy="958" r="8"/><circle cx="487" cy="958" r="8"/><circle cx="443" cy="973" r="8"/><circle cx="460" cy="973" r="8"/><circle cx="460" cy="983" r="8"/><circle cx="460" cy="993" r="8"/><circle cx="460" cy="1003" r="8"/><circle cx="480" cy="973" r="8"/><circle cx="488" cy="970" r="8"/><circle cx="498" cy="975" r="8"/><circle cx="505" cy="983" r="8"/><circle cx="487" cy="992" r="8"/><circle cx="423" cy="980" r="8"/><circle cx="425" cy="998" r="8"/><circle cx="445" cy="990" r="8"/><circle cx="400" cy="990" r="8"/><circle cx="390" cy="998" r="8"/><circle cx="408" cy="998" r="8"/><circle cx="448" cy="758" r="8"/><circle cx="465" cy="768" r="8"/><circle cx="457" cy="783" r="8"/><circle cx="473" cy="798" r="8"/><circle cx="492" cy="807" r="8"/><circle cx="463" cy="815" r="8"/><circle cx="463" cy="825" r="8"/><circle cx="463" cy="832" r="8"/><circle cx="428" cy="822" r="8"/><circle cx="428" cy="832" r="8"/><circle cx="428" cy="840" r="8"/><circle cx="447" cy="832" r="8"/><circle cx="500" cy="822" r="8"/><circle cx="393" cy="822" r="8"/><circle cx="375" cy="840" r="8"/><circle cx="567" cy="797" r="8"/><circle cx="577" cy="805" r="8"/><circle cx="585" cy="815" r="8"/><circle cx="567" cy="813" r="8"/><circle cx="560" cy="822" r="8"/><circle cx="562" cy="833" r="8"/><circle cx="572" cy="840" r="8"/><circle cx="553" cy="838" r="8"/><circle cx="543" cy="847" r="8"/><circle cx="580" cy="855" r="8"/><circle cx="562" cy="857" r="8"/><circle cx="562" cy="865" r="8"/><circle cx="562" cy="873" r="8"/><circle cx="545" cy="893" r="8"/><circle cx="580" cy="893" r="8"/><circle cx="603" cy="815" r="8"/><circle cx="633" cy="807" r="8"/><circle cx="537" cy="830" r="8"/><circle cx="662" cy="712" r="8"/></g>
<g id="n-I15" class="c15"><circle cx="777" cy="758" r="8"/><circle cx="833" cy="773" r="8"/><circle cx="833" cy="783" r="8"/><circle cx="823" cy="792" r="8"/><circle cx="842" cy="790" r="8"/><circle cx="823" cy="808" r="8"/><circle cx="823" cy="817" r="8"/><circle cx="842" cy="813" r="8"/><circle cx="842" cy="822" r="8"/><circle cx="807" cy="800" r="8"/><circle cx="807" cy="813" r="8"/><circle cx="788" cy="807" r="8"/><circle cx="788" cy="817" r="8"/><circle cx="722" cy="775" r="8"/><circle cx="713" cy="783" r="8"/><circle cx="730" cy="783" r="8"/><circle cx="713" cy="793" r="8"/><circle cx="730" cy="792" r="8"/><circle cx="683" cy="800" r="8"/><circle cx="700" cy="800" r="8"/><circle cx="700" cy="810" r="8"/><circle cx="700" cy="820" r="8"/><circle cx="700" cy="830" r="8"/><circle cx="675" cy="815" r="8"/><circle cx="683" cy="830" r="8"/><circle cx="720" cy="820" r="8"/><circle cx="728" cy="813" r="8"/><circle cx="738" cy="822" r="8"/><circle cx="738" cy="832" r="8"/><circle cx="738" cy="842" r="8"/><circle cx="738" cy="852" r="8"/><circle cx="738" cy="862" r="8"/><circle cx="738" cy="872" r="8"/><circle cx="728" cy="877" r="8"/><circle cx="745" cy="863" r="8"/><circle cx="763" cy="830" r="8"/><circle cx="755" cy="847" r="8"/><circle cx="772" cy="847" r="8"/><circle cx="790" cy="837" r="8"/><circle cx="807" cy="847" r="8"/><circle cx="825" cy="837" r="8"/><circle cx="860" cy="838" r="8"/><circle cx="860" cy="850" r="8"/><circle cx="858" cy="868" r="8"/><circle cx="877" cy="872" r="8"/><circle cx="842" cy="863" r="8"/><circle cx="823" cy="863" r="8"/><circle cx="840" cy="863" r="8"/><circle cx="922" cy="838" r="8"/><circle cx="913" cy="853" r="8"/><circle cx="913" cy="863" r="8"/><circle cx="748" cy="920" r="8"/><circle cx="708" cy="950" r="8"/><circle cx="727" cy="958" r="8"/><circle cx="722" cy="1022" r="8"/><circle cx="713" cy="1030" r="8"/><circle cx="765" cy="1068" r="8"/><circle cx="548" cy="687" r="8"/><circle cx="448" cy="735" r="8"/><circle cx="430" cy="740" r="8"/><circle cx="430" cy="752" r="8"/><circle cx="430" cy="765" r="8"/><circle cx="430" cy="777" r="8"/><circle cx="412" cy="775" r="8"/><circle cx="448" cy="775" r="8"/><circle cx="466" cy="760" r="8"/><circle cx="564" cy="735" r="8"/><circle cx="564" cy="750" r="8"/><circle cx="475" cy="783" r="8"/><circle cx="520" cy="792" r="8"/><circle cx="393" cy="790" r="8"/><circle cx="383" cy="798" r="8"/><circle cx="402" cy="798" r="8"/><circle cx="402" cy="807" r="8"/><circle cx="367" cy="815" r="8"/><circle cx="367" cy="823" r="8"/><circle cx="358" cy="832" r="8"/><circle cx="377" cy="832" r="8"/><circle cx="412" cy="823" r="8"/><circle cx="473" cy="807" r="8"/><circle cx="465" cy="832" r="8"/><circle cx="483" cy="832" r="8"/><circle cx="518" cy="815" r="8"/><circle cx="518" cy="823" r="8"/><circle cx="647" cy="815" r="8"/><circle cx="647" cy="822" r="8"/><circle cx="668" cy="815" r="8"/></g>
<g id="n-I7" class="c7"><circle cx="790" cy="847" r="8"/><circle cx="825" cy="847" r="8"/><circle cx="843" cy="847" r="8"/><circle cx="673" cy="878" r="8"/><circle cx="690" cy="878" r="8"/><circle cx="730" cy="892" r="8"/><circle cx="677" cy="880" r="8"/><circle cx="692" cy="880" r="8"/><circle cx="732" cy="895" r="8"/><circle cx="793" cy="903" r="8"/><circle cx="830" cy="895" r="8"/><circle cx="728" cy="945" r="8"/><circle cx="750" cy="950" r="8"/><circle cx="725" cy="975" r="8"/><circle cx="787" cy="975" r="8"/><circle cx="702" cy="998" r="8"/><circle cx="900" cy="998" r="8"/><circle cx="857" cy="1013" r="8"/><circle cx="873" cy="1020" r="8"/><circle cx="777" cy="1013" r="8"/><circle cx="785" cy="1005" r="8"/><circle cx="822" cy="1023" r="8"/><circle cx="730" cy="1030" r="8"/><circle cx="657" cy="1038" r="8"/><circle cx="663" cy="1062" r="8"/><circle cx="682" cy="1062" r="8"/><circle cx="700" cy="1062" r="8"/><circle cx="717" cy="1062" r="8"/><circle cx="735" cy="1055" r="8"/><circle cx="700" cy="1050" r="8"/><circle cx="777" cy="1072" r="8"/><circle cx="790" cy="1080" r="8"/><circle cx="803" cy="1070" r="8"/><circle cx="797" cy="1090" r="8"/><circle cx="797" cy="1103" r="8"/><circle cx="813" cy="1103" r="8"/><circle cx="820" cy="1047" r="8"/><circle cx="820" cy="1060" r="8"/><circle cx="830" cy="1070" r="8"/><circle cx="833" cy="1062" r="8"/><circle cx="780" cy="1070" r="8"/><circle cx="793" cy="1073" r="8"/><circle cx="807" cy="1063" r="8"/><circle cx="820" cy="1055" r="8"/><circle cx="833" cy="1065" r="8"/><circle cx="825" cy="1077" r="8"/><circle cx="798" cy="1093" r="8"/><circle cx="798" cy="1107" r="8"/><circle cx="815" cy="1107" r="8"/><circle cx="783" cy="1118" r="8"/><circle cx="783" cy="1127" r="8"/><circle cx="803" cy="1127" r="8"/><circle cx="820" cy="1127" r="8"/><circle cx="775" cy="1142" r="8"/><circle cx="793" cy="1148" r="8"/><circle cx="810" cy="1142" r="8"/><circle cx="828" cy="1142" r="8"/><circle cx="807" cy="1133" r="8"/><circle cx="542" cy="990" r="8"/><circle cx="542" cy="998" r="8"/><circle cx="503" cy="1007" r="8"/><circle cx="495" cy="1017" r="8"/><circle cx="495" cy="1025" r="8"/><circle cx="512" cy="1017" r="8"/><circle cx="522" cy="1023" r="8"/><circle cx="530" cy="1008" r="8"/><circle cx="540" cy="1017" r="8"/><circle cx="548" cy="1008" r="8"/><circle cx="557" cy="1008" r="8"/><circle cx="557" cy="1023" r="8"/><circle cx="538" cy="1025" r="8"/><circle cx="575" cy="1017" r="8"/><circle cx="575" cy="1030" r="8"/><circle cx="590" cy="1023" r="8"/><circle cx="618" cy="1007" r="8"/><circle cx="617" cy="1020" r="8"/><circle cx="610" cy="1030" r="8"/><circle cx="618" cy="1050" r="8"/><circle cx="618" cy="1060" r="8"/><circle cx="618" cy="1070" r="8"/><circle cx="618" cy="1080" r="8"/><circle cx="618" cy="1087" r="8"/><circle cx="602" cy="1053" r="8"/><circle cx="602" cy="1065" r="8"/><circle cx="583" cy="1053" r="8"/><circle cx="602" cy="1087" r="8"/><circle cx="637" cy="1087" r="8"/><circle cx="592" cy="1037" r="8"/></g>
<g id="n-I8" class="c8"><circle cx="807" cy="823" r="8"/><circle cx="850" cy="830" r="8"/><circle cx="783" cy="855" r="8"/><circle cx="867" cy="853" r="8"/><circle cx="877" cy="860" r="8"/><circle cx="895" cy="863" r="8"/><circle cx="930" cy="855" r="8"/><circle cx="683" cy="870" r="8"/><circle cx="703" cy="887" r="8"/><circle cx="678" cy="893" r="8"/><circle cx="710" cy="893" r="8"/><circle cx="755" cy="887" r="8"/><circle cx="793" cy="877" r="8"/><circle cx="805" cy="870" r="8"/><circle cx="813" cy="880" r="8"/><circle cx="830" cy="887" r="8"/><circle cx="777" cy="893" r="8"/><circle cx="740" cy="898" r="8"/><circle cx="802" cy="887" r="8"/><circle cx="678" cy="903" r="8"/><circle cx="678" cy="912" r="8"/><circle cx="697" cy="893" r="8"/><circle cx="705" cy="887" r="8"/><circle cx="715" cy="895" r="8"/><circle cx="725" cy="903" r="8"/><circle cx="732" cy="912" r="8"/><circle cx="740" cy="903" r="8"/><circle cx="750" cy="912" r="8"/><circle cx="758" cy="903" r="8"/><circle cx="777" cy="903" r="8"/><circle cx="777" cy="912" r="8"/><circle cx="757" cy="887" r="8"/><circle cx="797" cy="878" r="8"/><circle cx="803" cy="893" r="8"/><circle cx="813" cy="903" r="8"/><circle cx="830" cy="903" r="8"/><circle cx="867" cy="855" r="8"/><circle cx="877" cy="863" r="8"/><circle cx="710" cy="927" r="8"/><circle cx="728" cy="927" r="8"/><circle cx="728" cy="938" r="8"/><circle cx="708" cy="958" r="8"/><circle cx="727" cy="967" r="8"/><circle cx="743" cy="967" r="8"/><circle cx="760" cy="967" r="8"/><circle cx="770" cy="958" r="8"/><circle cx="762" cy="982" r="8"/><circle cx="757" cy="992" r="8"/><circle cx="778" cy="983" r="8"/><circle cx="797" cy="983" r="8"/><circle cx="797" cy="967" r="8"/><circle cx="815" cy="967" r="8"/><circle cx="825" cy="958" r="8"/><circle cx="825" cy="950" r="8"/><circle cx="825" cy="933" r="8"/><circle cx="815" cy="953" r="8"/><circle cx="787" cy="940" r="8"/><circle cx="787" cy="950" r="8"/><circle cx="797" cy="933" r="8"/><circle cx="810" cy="927" r="8"/><circle cx="805" cy="940" r="8"/><circle cx="900" cy="990" r="8"/><circle cx="918" cy="990" r="8"/><circle cx="918" cy="1007" r="8"/><circle cx="918" cy="1015" r="8"/><circle cx="900" cy="1015" r="8"/><circle cx="880" cy="1005" r="8"/><circle cx="883" cy="1013" r="8"/><circle cx="892" cy="1023" r="8"/><circle cx="875" cy="1030" r="8"/><circle cx="812" cy="997" r="8"/><circle cx="812" cy="1005" r="8"/><circle cx="793" cy="1013" r="8"/><circle cx="812" cy="1013" r="8"/><circle cx="802" cy="1030" r="8"/><circle cx="802" cy="1040" r="8"/><circle cx="838" cy="1022" r="8"/><circle cx="838" cy="1043" r="8"/><circle cx="753" cy="1038" r="8"/><circle cx="753" cy="1053" r="8"/><circle cx="772" cy="1053" r="8"/><circle cx="850" cy="1053" r="8"/><circle cx="860" cy="1043" r="8"/><circle cx="870" cy="1053" r="8"/><circle cx="860" cy="1067" r="8"/><circle cx="878" cy="1070" r="8"/><circle cx="842" cy="1078" r="8"/><circle cx="817" cy="1070" r="8"/><circle cx="762" cy="1078" r="8"/><circle cx="817" cy="1095" r="8"/><circle cx="673" cy="1022" r="8"/><circle cx="682" cy="1030" r="8"/><circle cx="673" cy="1040" r="8"/><circle cx="683" cy="1048" r="8"/><circle cx="650" cy="1015" r="8"/><circle cx="708" cy="1038" r="8"/><circle cx="718" cy="1048" r="8"/><circle cx="753" cy="1055" r="8"/><circle cx="770" cy="1055" r="8"/><circle cx="815" cy="1070" r="8"/><circle cx="815" cy="1093" r="8"/><circle cx="843" cy="1078" r="8"/><circle cx="860" cy="1077" r="8"/><circle cx="877" cy="1070" r="8"/><circle cx="853" cy="1055" r="8"/><circle cx="868" cy="1055" r="8"/><circle cx="575" cy="1007" r="8"/><circle cx="593" cy="1013" r="8"/><circle cx="592" cy="1030" r="8"/><circle cx="628" cy="1030" r="8"/><circle cx="637" cy="1037" r="8"/><circle cx="643" cy="1015" r="8"/><circle cx="637" cy="1023" r="8"/></g>
<g id="legend">
<rect x="1229" y="478" width="19" height="15" class="c10"/><text class="lg" x="1270" y="494">I10</text>
<rect x="1229" y="508" width="19" height="15" class="c12"/><text class="lg" x="1270" y="524">I12</text>
<rect x="1229" y="538" width="19" height="15" class="c11"/><text class="lg" x="1270" y="554">I11</text>
<rect x="1229" y="568" width="19" height="15" class="c1"/><text class="lg" x="1270" y="584">I1</text>
<rect x="1229" y="598" width="19" height="15" class="c2"/><text class="lg" x="1270" y="614">I2</text>
<rect x="1229" y="628" width="19" height="15" class="c13"/><text class="lg" x="1270" y="644">I13</text>
<rect x="1229" y="658" width="19" height="15" class="c3"/><text class="lg" x="1270" y="674">I3</text>
<rect x="1229" y="688" width="19" height="15" class="c4"/><text class="lg" x="1270" y="704">I4</text>
<rect x="1229" y="718" width="19" height="15" class="c14"/><text class="lg" x="1270" y="734">I14</text>
<rect x="1229" y="748" width="19" height="15" class="c5"/><text class="lg" x="1270" y="764">I5</text>
<rect x="1229" y="778" width="19" height="15" class="c6"/><text class="lg" x="1270" y="794">I6</text>
<rect x="1229" y="808" width="19" height="15" class="c15"/><text class="lg" x="1270" y="824">I15</text>
<rect x="1229" y="838" width="19" height="15" class="c7"/><text class="lg" x="1270" y="854">I7</text>
<rect x="1229" y="868" width="19" height="15" class="c8"/><text class="lg" x="1270" y="884">I8</text>
</g>
</svg>
